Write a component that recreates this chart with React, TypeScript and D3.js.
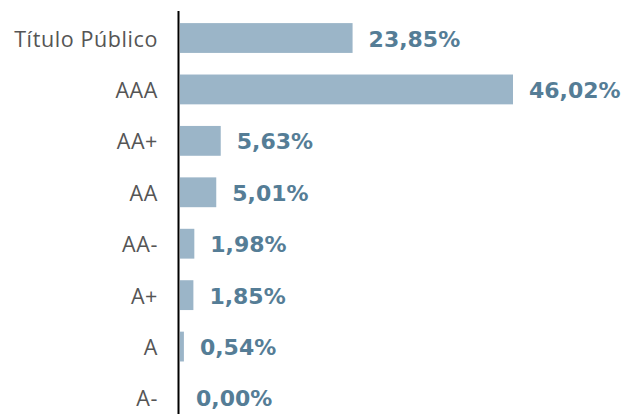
import React from "react";
import * as d3 from "d3";

const categories = ["Título Público", "AAA", "AA+", "AA", "AA-", "A+", "A", "A-"];
const values = [23.85, 46.02, 5.63, 5.01, 1.98, 1.85, 0.54, 0.0];

const W = 627;
const H = 414;

export default function App() {
  const x = d3.scaleLinear().domain([0, 46.02]).range([180, 513]);
  const y = d3
    .scaleBand<string>()
    .domain(categories)
    .range([12.3, 423.7])
    .paddingInner(0.42)
    .paddingOuter(0.21);
  const fmt = (v: number) => v.toFixed(2).replace(".", ",") + "%";
  return (
    <svg
      width={W}
      height={H}
      style={{ position: "absolute", left: 0, top: 0 }}
      viewBox={`0 0 ${W} ${H}`}
    >
      <rect width={W} height={H} fill="#ffffff" />
      {categories.map((c, i) => {
        const yc = (y(c) as number) + y.bandwidth() / 2;
        const xe = x(values[i]);
        return (
          <g key={c}>
            <rect
              x={x(0)}
              y={y(c)}
              width={Math.max(0, xe - x(0))}
              height={y.bandwidth()}
              fill="#9bb5c8"
            />
            <text
              x={158}
              y={yc}
              textAnchor="end"
              dominantBaseline="central"
              fontFamily="'Open Sans', sans-serif"
              fontSize={21.5}
              letterSpacing={0.6}
              fill="#555555"
            >
              {c}
            </text>
            <text
              x={xe + 16}
              y={yc + 1}
              dominantBaseline="central"
              fontFamily="'DejaVu Sans', sans-serif"
              fontSize={22}
              fontWeight="bold"
              fill="#557d96"
            >
              {fmt(values[i])}
            </text>
          </g>
        );
      })}
      <line x1={178.5} x2={178.5} y1={11} y2={H} stroke="#000" strokeWidth={2} />
    </svg>
  );
}
